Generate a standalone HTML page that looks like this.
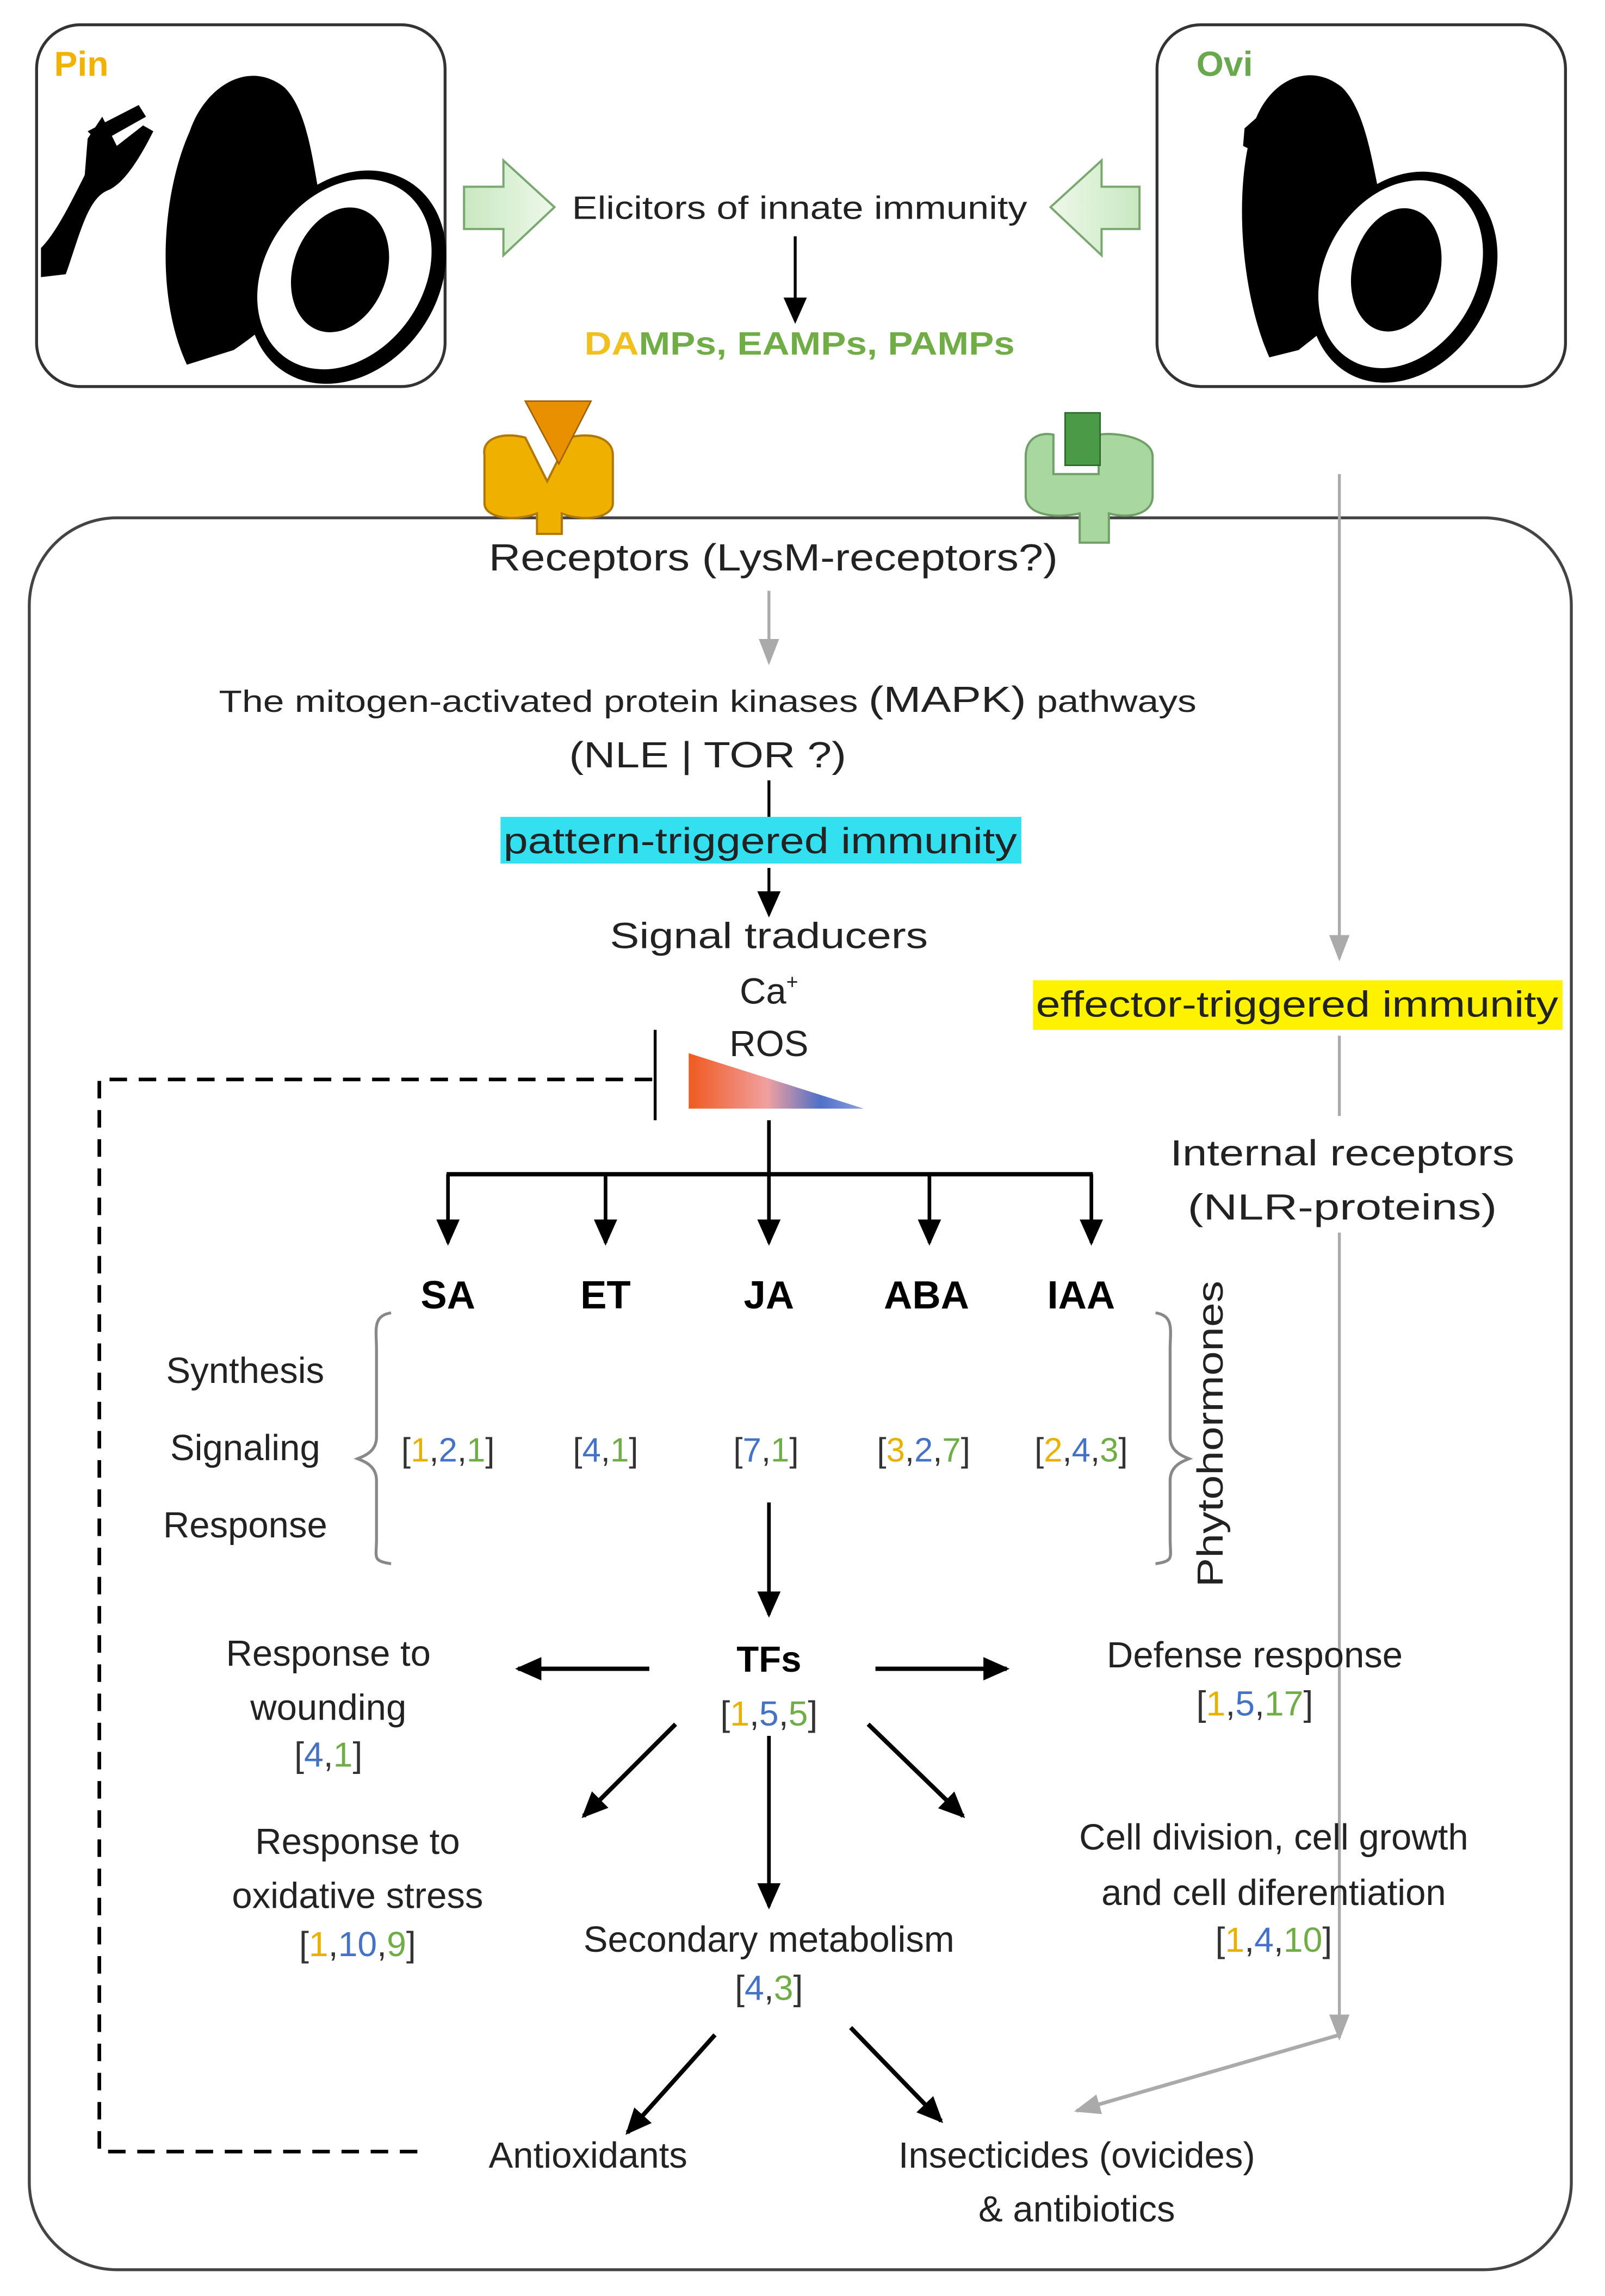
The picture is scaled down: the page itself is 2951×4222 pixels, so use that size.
<!DOCTYPE html>
<html><head><meta charset="utf-8"><style>html,body{margin:0;padding:0;background:#fff}svg{display:block}</style></head>
<body>
<svg width="2951" height="4222" viewBox="0 0 1100 1574" xmlns="http://www.w3.org/2000/svg" font-family="'Liberation Sans', sans-serif">
<defs>
<marker id="ab" markerWidth="10" markerHeight="10" refX="8" refY="5" orient="auto" markerUnits="userSpaceOnUse"><path d="M0,0 L10,5 L0,10 z" fill="#000"/></marker>
<marker id="abig" markerWidth="18" markerHeight="16" refX="16" refY="8" orient="auto" markerUnits="userSpaceOnUse"><path d="M0,0 L18,8 L0,16 z" fill="#000"/></marker>
<marker id="ag" markerWidth="18" markerHeight="14" refX="16" refY="7" orient="auto" markerUnits="userSpaceOnUse"><path d="M0,0 L18,7 L0,14 z" fill="#aaa"/></marker>
<linearGradient id="gr" x1="0" x2="1" y1="0" y2="0"><stop offset="0" stop-color="#f05a20"/><stop offset="0.45" stop-color="#f0a0a0"/><stop offset="0.75" stop-color="#5070c8"/><stop offset="1" stop-color="#8aa0e0"/></linearGradient>
<linearGradient id="garr" x1="0" x2="1"><stop offset="0" stop-color="#c8e8c0"/><stop offset="1" stop-color="#eef8ea"/></linearGradient>
<linearGradient id="garr2" x1="1" x2="0"><stop offset="0" stop-color="#c8e8c0"/><stop offset="1" stop-color="#eef8ea"/></linearGradient>
</defs>
<!-- top boxes -->
<rect x="25" y="17" width="280" height="248" rx="30" fill="#fff" stroke="#333" stroke-width="2"/>
<rect x="793" y="17" width="280" height="248" rx="30" fill="#fff" stroke="#333" stroke-width="2"/>
<text x="37" y="52" font-size="24" font-weight="bold" fill="#f0b400">Pin</text>
<text x="820" y="52" font-size="24" font-weight="bold" fill="#6aa84f">Ovi</text>
<!-- left avocado -->
<path d="M128,250 C105,200 112,130 130,90 C140,60 170,40 195,60 C215,80 215,130 225,160 L232,175 C200,210 175,230 160,240 Z" fill="#000"/>
<ellipse cx="238" cy="190" rx="62" ry="78" transform="rotate(35 238 190)" fill="#000"/>
<ellipse cx="236" cy="188" rx="54" ry="70" transform="rotate(35 236 188)" fill="#fff"/>
<ellipse cx="233" cy="185" rx="32" ry="44" transform="rotate(20 233 185)" fill="#000"/>
<path d="M28,170 L28,190 L45,188 C55,160 60,135 75,130 C85,125 95,110 105,90 L98,86 L80,100 L70,80 L60,95 L58,120 C48,140 38,160 28,170 Z" fill="#000"/>
<path d="M60,90 L95,72 L100,80 L68,98 Z" fill="#000"/>
<!-- right avocado -->
<path d="M870,245 C850,200 846,130 858,90 C866,58 895,40 920,60 C940,80 942,130 952,160 L958,175 C930,210 905,228 890,240 Z" fill="#000"/>
<ellipse cx="962" cy="190" rx="60" ry="76" transform="rotate(30 962 190)" fill="#000"/>
<ellipse cx="960" cy="188" rx="52" ry="68" transform="rotate(30 960 188)" fill="#fff"/>
<ellipse cx="957" cy="185" rx="30" ry="43" transform="rotate(15 957 185)" fill="#000"/>
<path d="M853,88 L862,80 L870,92 L862,105 L852,100 Z" fill="#000"/>
<!-- hollow green arrows -->
<path d="M318,128 L345,128 L345,110 L380,142 L345,175 L345,157 L318,157 Z" fill="url(#garr)" stroke="#7aa870" stroke-width="1.5"/>
<path d="M781,128 L755,128 L755,110 L720,142 L755,175 L755,157 L781,157 Z" fill="url(#garr2)" stroke="#7aa870" stroke-width="1.5"/>
<text x="548" y="150" font-size="22" text-anchor="middle" fill="#222" textLength="312" lengthAdjust="spacingAndGlyphs">Elicitors of innate immunity</text>
<line x1="545" y1="162" x2="545" y2="220" stroke="#000" stroke-width="2" marker-end="url(#abig)"/>
<text x="548" y="243" font-size="22" font-weight="bold" text-anchor="middle" textLength="295" lengthAdjust="spacingAndGlyphs"><tspan fill="#f0c020">DA</tspan><tspan fill="#70ad47">MPs, EAMPs, PAMPs</tspan></text>
<!-- main box -->
<rect x="20" y="355" width="1057" height="1201" rx="60" fill="none" stroke="#444" stroke-width="2"/>
<!-- receptors -->
<path d="M332,312 C330,300 345,296 360,300 L375,330 L390,300 C405,296 420,300 420,312 L420,345 C420,355 400,358 385,352 L385,366 L368,366 L368,352 C352,358 332,355 332,345 Z" fill="#f0b000" stroke="#b07800" stroke-width="1.5"/>
<path d="M360,275 L405,275 L383,318 Z" fill="#e89000" stroke="#a06000" stroke-width="1"/>
<path d="M703,313 C703,300 713,296 722,298 L722,325 L753,325 L753,298 C765,296 790,300 790,313 L790,340 C790,352 775,356 760,352 L760,372 L740,372 L740,352 C720,356 703,352 703,340 Z" fill="#a8d8a0" stroke="#70a068" stroke-width="1.5"/>
<rect x="730" y="283" width="24" height="36" fill="#4a9a48" stroke="#2a6a28" stroke-width="1"/>
<text x="530" y="391" font-size="26" text-anchor="middle" fill="#222" textLength="390" lengthAdjust="spacingAndGlyphs">Receptors (LysM-receptors?)</text>
<line x1="527" y1="405" x2="527" y2="454" stroke="#aaa" stroke-width="2" marker-end="url(#ag)"/>
<text x="485" y="488" font-size="21" text-anchor="middle" fill="#222" textLength="670" lengthAdjust="spacingAndGlyphs">The mitogen-activated protein kinases <tspan font-size="25">(MAPK)</tspan> pathways</text>
<text x="485" y="526" font-size="25" text-anchor="middle" fill="#222" textLength="190" lengthAdjust="spacingAndGlyphs">(NLE | TOR ?)</text>
<line x1="527" y1="535" x2="527" y2="560" stroke="#000" stroke-width="2"/>
<rect x="343" y="560" width="357" height="32" fill="#33e0f0"/>
<text x="521" y="585" font-size="25" text-anchor="middle" fill="#222" textLength="352" lengthAdjust="spacingAndGlyphs">pattern-triggered immunity</text>
<line x1="527" y1="595" x2="527" y2="627" stroke="#000" stroke-width="2" marker-end="url(#abig)"/>
<text x="527" y="650" font-size="25" text-anchor="middle" fill="#222" textLength="218" lengthAdjust="spacingAndGlyphs">Signal traducers</text>
<text x="527" y="688" font-size="25" text-anchor="middle" fill="#222">Ca<tspan font-size="14" dy="-10">+</tspan></text>
<text x="527" y="724" font-size="25" text-anchor="middle" fill="#222">ROS</text>
<!-- ETI -->
<rect x="708" y="672" width="363" height="34" fill="#fff200"/>
<text x="889" y="697" font-size="25" text-anchor="middle" fill="#222" textLength="358" lengthAdjust="spacingAndGlyphs">effector-triggered immunity</text>
<line x1="918" y1="325" x2="918" y2="657" stroke="#aaa" stroke-width="2" marker-end="url(#ag)"/>
<line x1="918" y1="710" x2="918" y2="765" stroke="#aaa" stroke-width="2"/>
<line x1="918" y1="845" x2="918" y2="1397" stroke="#aaa" stroke-width="2" marker-end="url(#ag)"/>
<line x1="918" y1="1395" x2="738" y2="1447" stroke="#aaa" stroke-width="2.5" marker-end="url(#ag)"/>
<text x="920" y="799" font-size="25" text-anchor="middle" fill="#222" textLength="236" lengthAdjust="spacingAndGlyphs">Internal receptors</text>
<text x="920" y="836" font-size="25" text-anchor="middle" fill="#222" textLength="212" lengthAdjust="spacingAndGlyphs">(NLR-proteins)</text>
<!-- inhibition + dashes -->
<line x1="449" y1="706" x2="449" y2="768" stroke="#000" stroke-width="2"/>
<path d="M447,740 L68,740 L68,1475 L290,1475" fill="none" stroke="#000" stroke-width="2.5" stroke-dasharray="12,8"/>
<path d="M472,722 L472,760 L592,760 Z" fill="url(#gr)"/>
<!-- branching -->
<line x1="527" y1="768" x2="527" y2="805" stroke="#000" stroke-width="2.5"/>
<line x1="306" y1="805" x2="749" y2="805" stroke="#000" stroke-width="3"/>
<g stroke="#000" stroke-width="2.5" marker-end="url(#abig)">
<line x1="307" y1="805" x2="307" y2="852"/><line x1="415" y1="805" x2="415" y2="852"/><line x1="527" y1="805" x2="527" y2="852"/><line x1="637" y1="805" x2="637" y2="852"/><line x1="748" y1="805" x2="748" y2="852"/>
</g>
<g font-size="27" font-weight="bold" text-anchor="middle" fill="#000">
<text x="307" y="897">SA</text><text x="415" y="897">ET</text><text x="527" y="897">JA</text><text x="635" y="897">ABA</text><text x="741" y="897">IAA</text>
</g>
<path d="M268,900 C255,902 258,912 258,925 L258,985 C258,995 250,998 245,1000 C250,1002 258,1005 258,1015 L258,1055 C258,1068 255,1070 268,1072" fill="none" stroke="#888" stroke-width="2"/>
<path d="M792,900 C805,902 802,912 802,925 L802,985 C802,995 810,998 815,1000 C810,1002 802,1005 802,1015 L802,1055 C802,1068 805,1070 792,1072" fill="none" stroke="#888" stroke-width="2"/>
<g font-size="25" text-anchor="middle" fill="#222">
<text x="168" y="948">Synthesis</text><text x="168" y="1001">Signaling</text><text x="168" y="1054">Response</text>
</g>
<text transform="translate(838,983) rotate(-90)" font-size="25" text-anchor="middle" fill="#222" textLength="210" lengthAdjust="spacingAndGlyphs">Phytohormones</text>
<g font-size="23" text-anchor="middle" fill="#333">
<text x="307" y="1002">[<tspan fill="#e8b100">1</tspan>,<tspan fill="#4472c4">2</tspan>,<tspan fill="#70ad47">1</tspan>]</text>
<text x="415" y="1002">[<tspan fill="#4472c4">4</tspan>,<tspan fill="#70ad47">1</tspan>]</text>
<text x="525" y="1002">[<tspan fill="#4472c4">7</tspan>,<tspan fill="#70ad47">1</tspan>]</text>
<text x="633" y="1002">[<tspan fill="#e8b100">3</tspan>,<tspan fill="#4472c4">2</tspan>,<tspan fill="#70ad47">7</tspan>]</text>
<text x="741" y="1002">[<tspan fill="#e8b100">2</tspan>,<tspan fill="#4472c4">4</tspan>,<tspan fill="#70ad47">3</tspan>]</text>
</g>
<line x1="527" y1="1030" x2="527" y2="1107" stroke="#000" stroke-width="2.5" marker-end="url(#abig)"/>
<text x="527" y="1146" font-size="25" font-weight="bold" text-anchor="middle">TFs</text>
<g font-size="24" text-anchor="middle" fill="#333">
<text x="527" y="1183">[<tspan fill="#e8b100">1</tspan>,<tspan fill="#4472c4">5</tspan>,<tspan fill="#70ad47">5</tspan>]</text>
<text x="225" y="1211">[<tspan fill="#4472c4">4</tspan>,<tspan fill="#70ad47">1</tspan>]</text>
<text x="860" y="1176">[<tspan fill="#e8b100">1</tspan>,<tspan fill="#4472c4">5</tspan>,<tspan fill="#70ad47">17</tspan>]</text>
<text x="245" y="1341">[<tspan fill="#e8b100">1</tspan>,<tspan fill="#4472c4">10</tspan>,<tspan fill="#70ad47">9</tspan>]</text>
<text x="527" y="1371">[<tspan fill="#4472c4">4</tspan>,<tspan fill="#70ad47">3</tspan>]</text>
<text x="873" y="1338">[<tspan fill="#e8b100">1</tspan>,<tspan fill="#4472c4">4</tspan>,<tspan fill="#70ad47">10</tspan>]</text>
</g>
<g stroke="#000" stroke-width="3" marker-end="url(#abig)">
<line x1="445" y1="1144" x2="355" y2="1144"/>
<line x1="600" y1="1144" x2="690" y2="1144"/>
<line x1="463" y1="1182" x2="400" y2="1245"/>
<line x1="595" y1="1182" x2="660" y2="1245"/>
<line x1="490" y1="1395" x2="430" y2="1462"/>
<line x1="583" y1="1390" x2="645" y2="1454"/>
</g>
<line x1="527" y1="1190" x2="527" y2="1307" stroke="#000" stroke-width="2.5" marker-end="url(#abig)"/>
<g font-size="25" text-anchor="middle" fill="#222">
<text x="225" y="1142">Response to</text><text x="225" y="1179">wounding</text>
<text x="860" y="1143">Defense response</text>
<text x="245" y="1271">Response to</text><text x="245" y="1308">oxidative stress</text>
<text x="527" y="1338">Secondary metabolism</text>
<text x="873" y="1268">Cell division, cell growth</text><text x="873" y="1306">and cell diferentiation</text>
<text x="403" y="1486">Antioxidants</text>
<text x="738" y="1486">Insecticides (ovicides)</text><text x="738" y="1523">&amp; antibiotics</text>
</g>
</svg>
</body></html>
